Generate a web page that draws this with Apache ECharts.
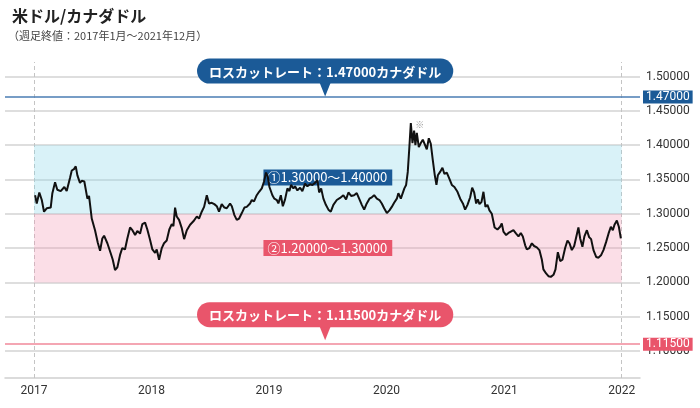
<!DOCTYPE html>
<html>
<head>
<meta charset="utf-8">
<script src="https://cdn.jsdelivr.net/npm/echarts@6/dist/echarts.min.js"></script>
<style>
html,body{margin:0;padding:0;background:#fff;}
#chart{width:700px;height:408px;}
</style>
</head>
<body>
<div id="chart"></div>
<script>
// Weekly closes (decimal year, USD/CAD)
const years = [
2017.009,2017.023,2017.045,2017.066,2017.085,2017.108,2017.142,2017.156,2017.179,2017.198,
2017.227,2017.241,2017.258,2017.278,2017.306,2017.321,2017.340,2017.355,2017.369,2017.391,
2017.406,2017.428,2017.454,2017.468,2017.491,2017.519,2017.542,2017.562,2017.581,2017.596,
2017.624,2017.653,2017.670,2017.689,2017.709,2017.732,2017.751,2017.774,2017.794,2017.817,
2017.837,2017.860,2017.879,2017.902,2017.922,2017.945,2017.964,2017.987,2018.007,2018.030,
2018.044,2018.064,2018.087,2018.106,2018.129,2018.151,2018.172,2018.186,2018.200,2018.214,
2018.234,2018.257,2018.277,2018.300,2018.328,2018.356,2018.385,2018.404,2018.427,2018.447,
2018.470,2018.489,2018.512,2018.534,2018.555,2018.574,2018.597,2018.620,2018.640,2018.668,
2018.683,2018.705,2018.725,2018.745,2018.768,2018.790,2018.810,2018.838,2018.853,2018.872,
2018.895,2018.915,2018.938,2018.957,2018.974,2018.989,2019.003,2019.028,2019.045,2019.066,
2019.079,2019.100,2019.117,2019.136,2019.156,2019.173,2019.187,2019.207,2019.221,2019.241,
2019.264,2019.283,2019.306,2019.326,2019.349,2019.369,2019.391,2019.411,2019.426,2019.443,
2019.462,2019.483,2019.505,2019.525,2019.547,2019.576,2019.604,2019.632,2019.655,2019.675,
2019.698,2019.723,2019.746,2019.769,2019.789,2019.809,2019.831,2019.854,2019.874,2019.894,
2019.917,2019.939,2019.959,2019.979,2020.002,2020.024,2020.044,2020.064,2020.087,2020.100,
2020.121,2020.138,2020.151,2020.166,2020.180,2020.194,2020.206,2020.220,2020.234,2020.245,
2020.257,2020.274,2020.291,2020.308,2020.325,2020.342,2020.359,2020.376,2020.393,2020.410,
2020.424,2020.436,2020.455,2020.475,2020.492,2020.512,2020.532,2020.555,2020.577,2020.603,
2020.626,2020.649,2020.668,2020.688,2020.711,2020.728,2020.745,2020.762,2020.776,2020.790,
2020.807,2020.824,2020.841,2020.858,2020.875,2020.895,2020.919,2020.943,2020.966,2020.980,
2020.994,2021.017,2021.037,2021.057,2021.079,2021.102,2021.122,2021.142,2021.159,2021.179,
2021.193,2021.215,2021.236,2021.255,2021.278,2021.300,2021.321,2021.334,2021.357,2021.377,
2021.397,2021.420,2021.437,2021.457,2021.477,2021.496,2021.519,2021.539,2021.556,2021.576,
2021.596,2021.613,2021.632,2021.647,2021.666,2021.683,2021.704,2021.723,2021.740,2021.760,
2021.783,2021.803,2021.826,2021.845,2021.868,2021.888,2021.908,2021.925,2021.939,2021.959,
2021.976,2021.993
];
const rates = [
1.327,1.315,1.331,1.320,1.303,1.308,1.309,1.330,1.346,1.335,
1.333,1.331,1.339,1.333,1.352,1.363,1.365,1.369,1.356,1.345,
1.348,1.347,1.322,1.326,1.293,1.276,1.258,1.246,1.264,1.268,
1.257,1.242,1.233,1.218,1.222,1.240,1.250,1.248,1.264,1.280,
1.276,1.269,1.275,1.271,1.285,1.287,1.277,1.262,1.248,1.243,
1.248,1.233,1.250,1.257,1.261,1.277,1.285,1.282,1.309,1.296,
1.291,1.279,1.263,1.276,1.284,1.289,1.296,1.293,1.303,1.310,
1.327,1.315,1.316,1.314,1.311,1.303,1.314,1.309,1.308,1.315,
1.311,1.298,1.291,1.293,1.301,1.309,1.310,1.315,1.320,1.318,
1.327,1.332,1.337,1.347,1.360,1.354,1.339,1.327,1.322,1.320,
1.315,1.327,1.311,1.321,1.337,1.333,1.342,1.337,1.340,1.334,
1.338,1.333,1.344,1.340,1.343,1.342,1.345,1.349,1.331,1.337,
1.322,1.313,1.306,1.303,1.313,1.320,1.323,1.327,1.321,1.331,
1.326,1.327,1.330,1.321,1.313,1.306,1.315,1.322,1.324,1.327,
1.322,1.320,1.315,1.308,1.301,1.305,1.310,1.316,1.322,1.330,
1.322,1.324,1.337,1.342,1.361,1.398,1.432,1.403,1.421,1.400,
1.418,1.397,1.403,1.408,1.406,1.394,1.410,1.402,1.378,1.356,
1.342,1.356,1.361,1.367,1.358,1.360,1.352,1.342,1.339,1.332,
1.322,1.315,1.306,1.313,1.324,1.338,1.331,1.315,1.321,1.314,
1.317,1.332,1.310,1.313,1.305,1.300,1.280,1.277,1.281,1.286,
1.274,1.269,1.272,1.274,1.276,1.271,1.267,1.272,1.267,1.254,
1.248,1.250,1.257,1.253,1.251,1.247,1.233,1.219,1.213,1.209,
1.208,1.211,1.219,1.244,1.231,1.233,1.250,1.261,1.257,1.247,
1.253,1.252,1.280,1.264,1.252,1.267,1.276,1.266,1.263,1.247,
1.237,1.236,1.240,1.247,1.259,1.271,1.281,1.276,1.284,1.290,
1.281,1.264
];
const yearLabels = [2017, 2018, 2019, 2020, 2021, 2022];
const dashedYears = [2017, 2022];
const yTicks = { min: 1.10, max: 1.50, interval: 0.05 };
const bandRanges = [[1.30, 1.40], [1.20, 1.30]];
const bandLabels = ['①1.30000～1.40000', '②1.20000～1.30000'];
const lossCutRates = [1.47, 1.115];
const lossCutTags = ['1.47000', '1.11500'];
const lossCutTexts = ['ロスカットレート：1.47000カナダドル', 'ロスカットレート：1.11500カナダドル'];
const calloutYear = 2019.477;
const titleText = '米ドル/カナダドル';
const subtitleText = '（週足終値：2017年1月～2021年12月）';

const BLUE = '#1b5a97';
const BLUE_LINE = '#4a7db3';
const PINK = '#e9556b';
const PINK_LINE = '#f0899a';
const FONT = '"Noto Sans CJK JP", "Noto Sans", sans-serif';

const data = years.map((y, i) => [y, rates[i]]);

const bandFill = ['rgba(140,215,235,0.33)', 'rgba(244,152,180,0.32)'];
const bandBox = [BLUE, PINK];
const markAreaData = bandRanges.map((r, i) => [
  { xAxis: dashedYears[0], yAxis: r[0], itemStyle: { color: bandFill[i] },
    label: { show: true, position: 'inside', offset: [0, i === 0 ? -2 : 0], formatter: bandLabels[i],
      color: '#fff', backgroundColor: bandBox[i], padding: [2, 5, 1, 4], fontSize: 13, fontFamily: FONT } },
  { xAxis: dashedYears[1], yAxis: r[1] }
]);

const lineCols = [BLUE_LINE, PINK_LINE];
const boxCols = [BLUE, PINK];
const markLineData = lossCutRates.map((v, i) => ({
  yAxis: v,
  lineStyle: { color: lineCols[i], width: 1.5, type: 'solid' },
  label: { show: true, position: 'end', distance: 3, formatter: lossCutTags[i],
    color: '#fff', backgroundColor: boxCols[i], padding: [1, 3, 0, 3], fontSize: 12, fontFamily: 'Roboto' }
}));

const markPointData = lossCutRates.map((v, i) => ({
  coord: [calloutYear, v],
  symbol: 'triangle', symbolRotate: 180, symbolSize: [12, 15], symbolOffset: [0, -8],
  itemStyle: { color: boxCols[i] },
  label: { show: true, position: 'top', distance: -2, formatter: lossCutTexts[i],
    color: '#fff', backgroundColor: boxCols[i], borderRadius: 13, padding: [5, 12, 4, 12],
    lineHeight: 16, fontSize: 13, fontWeight: 'bold', fontFamily: FONT }
}));
markPointData.push({
  type: 'max', symbol: 'circle', symbolSize: 0,
  label: { show: true, position: 'inside', offset: [9, 1], formatter: '※', color: '#999', fontSize: 9, fontFamily: FONT }
});

const chart = echarts.init(document.getElementById('chart'), null, { renderer: 'canvas' });
chart.setOption({
  animation: false,
  backgroundColor: '#fff',
  title: [
    { text: titleText, left: 7, top: 3, textStyle: { fontSize: 16, fontWeight: 'bold', color: '#222', fontFamily: FONT } },
    { text: subtitleText, left: 3, top: 25, textStyle: { fontSize: 11, fontWeight: 'normal', color: '#444', fontFamily: FONT } }
  ],
  grid: { left: 5, right: 60, top: 76.5, bottom: 57, containLabel: false },
  xAxis: {
    type: 'value', min: 2016.753, max: 2022.156, position: 'bottom', offset: 27,
    axisLine: { show: true, lineStyle: { color: '#cfcfcf', width: 1.5 } },
    axisTick: { show: true, customValues: dashedYears, inside: true, length: 316,
      lineStyle: { color: '#c4c4c4', type: [4, 3], width: 1 } },
    axisLabel: { customValues: yearLabels, formatter: v => String(Math.round(v)), color: '#333', fontSize: 12, fontFamily: 'Roboto', margin: 7 },
    splitLine: { show: false }
  },
  yAxis: {
    type: 'value', position: 'right', min: yTicks.min, max: yTicks.max, interval: yTicks.interval,
    axisLine: { show: false }, axisTick: { show: false },
    axisLabel: { formatter: v => v.toFixed(5), color: '#333', fontSize: 12, fontFamily: 'Roboto', margin: 6 },
    splitLine: { show: true, lineStyle: { color: '#d3d3d3', width: 1.5 } }
  },
  series: [{
    type: 'line', data: data, symbol: 'none', smooth: false,
    lineStyle: { color: '#111', width: 2 },
    markArea: { silent: true, data: markAreaData },
    markLine: { silent: true, symbol: 'none', data: markLineData },
    markPoint: { silent: true, data: markPointData }
  }]
});
</script>
</body>
</html>
